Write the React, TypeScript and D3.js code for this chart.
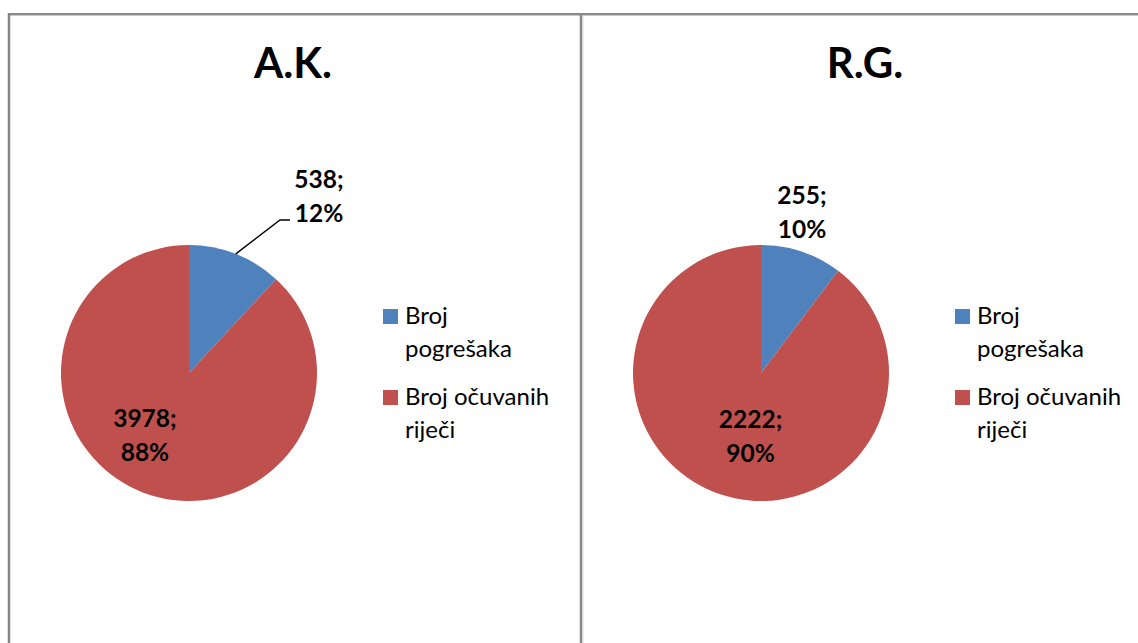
import React from "react";
import { pie, arc, scaleOrdinal } from "d3";

const categories = ["Broj pogrešaka", "Broj očuvanih riječi"];
const legendLines = [["Broj", "pogrešaka"], ["Broj očuvanih", "riječi"]];
const titles = ["A.K.", "R.G."];
const valuesAK = [538, 3978];
const valuesRG = [255, 2222];
const percentAK = ["12%", "88%"];
const percentRG = ["10%", "90%"];

const W = 1138;
const H = 643;
const R = 128;
const FONT = "Lato, 'Open Sans', sans-serif";

const color = scaleOrdinal<string, string>()
  .domain(categories)
  .range(["#4F81BD", "#C0504D"]);

// per-panel layout tweaks (label nudges relative to computed anchors)
const panels = [
  {
    title: titles[0],
    values: valuesAK,
    pct: percentAK,
    x0: 9,
    leader: true,
    outer: { dx: 130, dy: -177 },
    innerNudge: { dx: -16, dy: -9 },
  },
  {
    title: titles[1],
    values: valuesRG,
    pct: percentRG,
    x0: 581,
    leader: false,
    outer: { dx: 41, dy: -161 },
    innerNudge: { dx: 14, dy: -10 },
  },
];

function PiePanel({ p }: { p: (typeof panels)[number] }) {
  const cx = p.x0 + 180;
  const cy = 373;
  const data = categories.map((c, i) => ({ key: c, value: p.values[i], pct: p.pct[i] }));
  const arcs = pie<{ key: string; value: number; pct: string }>()
    .value((d) => d.value)
    .sort(null)(data);
  const slice = arc<any>().innerRadius(0).outerRadius(R);
  const edge = arc<any>().innerRadius(R).outerRadius(R);
  const mid = arc<any>().innerRadius(R * 0.6).outerRadius(R * 0.6);

  const blue = arcs[0];
  const red = arcs[1];
  const [ex, ey] = edge.centroid(blue);
  const [mx, my] = mid.centroid(red);
  const ox = p.outer.dx;
  const oy = p.outer.dy;
  const lineH = 34;

  return (
    <g>
      <text
        x={p.x0 + 284}
        y={78}
        textAnchor="middle"
        fontFamily={FONT}
        fontWeight="bold"
        fontSize={42}
        fill="#000"
      >
        {p.title}
      </text>
      <g transform={`translate(${cx},${cy})`}>
        {arcs.map((a, i) => (
          <path key={i} d={slice(a) ?? ""} fill={color(a.data.key)} />
        ))}
        {p.leader && (
          <polyline
            points={`${ex},${ey} ${ox - 39},${oy + 24} ${ox - 29},${oy + 24}`}
            fill="none"
            stroke="#000"
            strokeWidth={1.3}
          />
        )}
        <g
          fontFamily={FONT}
          fontWeight="bold"
          fontSize={24.5}
          textAnchor="middle"
          fill="#000"
        >
          <text x={ox} y={oy - 8}>{`${blue.data.value};`}</text>
          <text x={ox} y={oy - 8 + lineH}>{blue.data.pct}</text>
          <text x={mx + p.innerNudge.dx} y={my + p.innerNudge.dy - 8}>{`${red.data.value};`}</text>
          <text x={mx + p.innerNudge.dx} y={my + p.innerNudge.dy - 8 + lineH}>{red.data.pct}</text>
        </g>
      </g>
      <g transform={`translate(${cx + 194},0)`} fontFamily={FONT} fontSize={24} fill="#000">
        {categories.map((c, i) => (
          <g key={c} transform={`translate(0,${309 + i * 81})`}>
            <rect x={0} y={0} width={15} height={15} fill={color(c)} />
            {legendLines[i].map((ln, j) => (
              <text key={j} x={22} y={15 + j * 33}>
                {ln}
              </text>
            ))}
          </g>
        ))}
      </g>
    </g>
  );
}

export default function App() {
  return (
    <svg
      width={W}
      height={H}
      style={{ position: "absolute", left: 0, top: 0, background: "#fff" }}
    >
      <rect x={0} y={0} width={W} height={H} fill="#fff" />
      {/* frames */}
      <line x1={8} x2={W} y1={14} y2={14} stroke="#8a8a8a" strokeWidth={2} />
      <line x1={10} x2={W} y1={15.5} y2={15.5} stroke="#c8c8c8" strokeWidth={1} />
      <line x1={9} x2={9} y1={13} y2={H} stroke="#848484" strokeWidth={2.5} />
      <line x1={581} x2={581} y1={13} y2={H} stroke="#8a8a8a" strokeWidth={2.5} />
      <line x1={582.8} x2={582.8} y1={15} y2={H} stroke="#d0d0d0" strokeWidth={1} />
      {panels.map((p, i) => (
        <PiePanel key={i} p={p} />
      ))}
    </svg>
  );
}
